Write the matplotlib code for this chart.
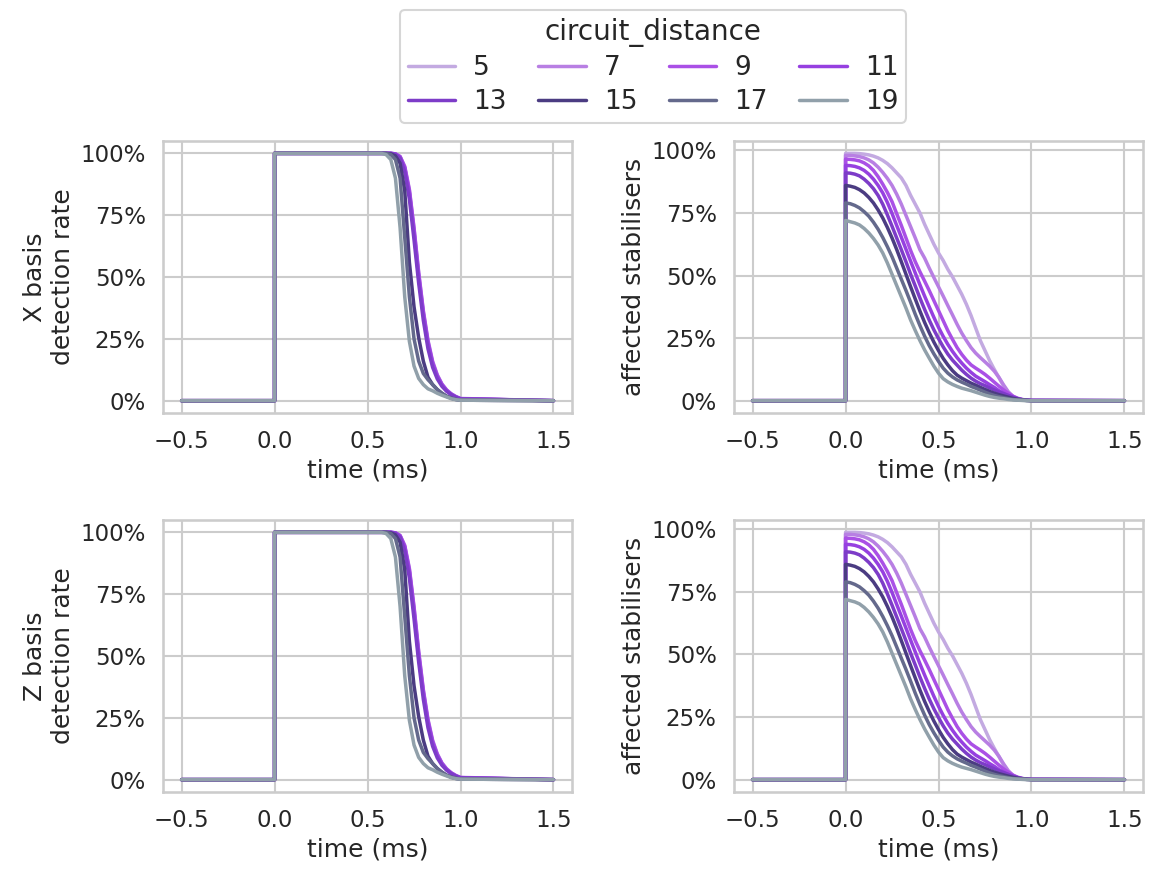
import numpy as np
import matplotlib
matplotlib.use("Agg")
import matplotlib.pyplot as plt
import seaborn as sns
from matplotlib.ticker import PercentFormatter

sns.set_theme(style="whitegrid", context="talk")
plt.rcParams["font.family"] = ["DejaVu Sans"]

# circuit distances and their line colours
distances = [5, 7, 9, 11, 13, 15, 17, 19]
colors = ["#c3aae1", "#b87fe3", "#aa50e6", "#9640e0",
          "#7d3cc8", "#4b3c82", "#64698c", "#91a0aa"]

# sampling grid after the event at t = 0 (ms)
time_ms = np.round(np.arange(0.0, 1.0001, 0.025), 3)
baseline_time = [-0.5, 0.0]
tail_time = [1.5]
baseline_level = 0.0

# detection rate (fraction of detectors firing)
rate_d5 = [1.0] * 26 + [0.997, 0.985, 0.94, 0.84, 0.68, 0.5, 0.35, 0.23, 0.15,
                        0.1, 0.065, 0.042, 0.027, 0.016, 0.008]
rate_d7 = [1.0] * 26 + [0.998, 0.988, 0.948, 0.855, 0.7, 0.52, 0.365, 0.245, 0.16,
                        0.105, 0.068, 0.044, 0.028, 0.017, 0.009]
rate_d9 = [1.0] * 26 + [0.998, 0.987, 0.945, 0.85, 0.695, 0.515, 0.36, 0.24, 0.155,
                        0.102, 0.066, 0.043, 0.027, 0.016, 0.008]
rate_d11 = [1.0] * 26 + [0.998, 0.985, 0.94, 0.84, 0.68, 0.5, 0.35, 0.232, 0.15,
                         0.098, 0.064, 0.041, 0.026, 0.015, 0.008]
rate_d13 = [1.0] * 26 + [0.995, 0.98, 0.925, 0.815, 0.65, 0.475, 0.325, 0.21, 0.135,
                         0.088, 0.058, 0.038, 0.024, 0.014, 0.007]
rate_d15 = [1.0] * 25 + [0.998, 0.99, 0.96, 0.85, 0.56, 0.38, 0.255, 0.16, 0.095,
                         0.065, 0.045, 0.03, 0.018, 0.01, 0.005, 0.002]
rate_d17 = [1.0] * 24 + [1.0, 0.995, 0.975, 0.9, 0.66, 0.42, 0.25, 0.16, 0.11,
                         0.085, 0.065, 0.045, 0.03, 0.018, 0.01, 0.005, 0.002]
rate_d19 = [1.0] * 23 + [1.0, 0.995, 0.975, 0.9, 0.7, 0.42, 0.24, 0.14, 0.09,
                         0.065, 0.048, 0.04, 0.03, 0.022, 0.015, 0.008, 0.004, 0.002]

# fraction of stabilisers affected
affected_d5 = [0.988, 0.988, 0.988, 0.987, 0.985, 0.982, 0.977, 0.97, 0.96, 0.947,
               0.93, 0.91, 0.89, 0.86, 0.82, 0.785, 0.75, 0.705, 0.665, 0.625,
               0.59, 0.56, 0.525, 0.495, 0.46, 0.425, 0.385, 0.34, 0.29, 0.24,
               0.2, 0.16, 0.125, 0.092, 0.058, 0.03, 0.015, 0.007, 0.003, 0.001, 0.0]
affected_d7 = [0.98, 0.98, 0.978, 0.975, 0.97, 0.962, 0.95, 0.933, 0.912, 0.888,
               0.86, 0.825, 0.785, 0.74, 0.695, 0.65, 0.603, 0.57, 0.53, 0.492,
               0.455, 0.418, 0.38, 0.343, 0.305, 0.27, 0.24, 0.212, 0.19, 0.172,
               0.155, 0.138, 0.118, 0.093, 0.063, 0.036, 0.018, 0.008, 0.004, 0.002, 0.001]
affected_d9 = [0.965, 0.964, 0.962, 0.958, 0.95, 0.938, 0.92, 0.895, 0.865, 0.832,
               0.795, 0.747, 0.7, 0.65, 0.6, 0.555, 0.515, 0.478, 0.44, 0.4,
               0.36, 0.32, 0.28, 0.245, 0.212, 0.185, 0.162, 0.143, 0.13, 0.118,
               0.105, 0.09, 0.074, 0.058, 0.043, 0.03, 0.018, 0.01, 0.005, 0.002, 0.001]
affected_d11 = [0.94, 0.939, 0.936, 0.93, 0.92, 0.905, 0.885, 0.86, 0.83, 0.792,
                0.748, 0.7, 0.653, 0.605, 0.557, 0.51, 0.463, 0.418, 0.375, 0.333,
                0.293, 0.257, 0.225, 0.197, 0.172, 0.15, 0.13, 0.113, 0.098, 0.087,
                0.076, 0.064, 0.053, 0.04, 0.03, 0.021, 0.013, 0.008, 0.004, 0.002, 0.001]
affected_d13 = [0.91, 0.909, 0.905, 0.898, 0.885, 0.868, 0.847, 0.82, 0.785, 0.742,
                0.697, 0.65, 0.603, 0.555, 0.505, 0.458, 0.41, 0.365, 0.322, 0.283,
                0.248, 0.215, 0.186, 0.162, 0.142, 0.122, 0.105, 0.09, 0.078, 0.068,
                0.06, 0.051, 0.043, 0.035, 0.028, 0.021, 0.014, 0.008, 0.004, 0.002, 0.001]
affected_d15 = [0.86, 0.857, 0.852, 0.843, 0.83, 0.812, 0.79, 0.762, 0.73, 0.692,
                0.65, 0.604, 0.555, 0.505, 0.455, 0.406, 0.358, 0.313, 0.272, 0.234,
                0.2, 0.169, 0.143, 0.12, 0.102, 0.09, 0.08, 0.07, 0.062, 0.053,
                0.045, 0.037, 0.03, 0.024, 0.019, 0.014, 0.009, 0.006, 0.003, 0.001, 0.0]
affected_d17 = [0.79, 0.787, 0.78, 0.77, 0.755, 0.737, 0.713, 0.685, 0.652, 0.615,
                0.575, 0.53, 0.485, 0.44, 0.393, 0.345, 0.3, 0.258, 0.22, 0.187,
                0.157, 0.13, 0.11, 0.095, 0.083, 0.074, 0.066, 0.057, 0.05, 0.042,
                0.034, 0.027, 0.021, 0.016, 0.012, 0.008, 0.005, 0.003, 0.002, 0.001, 0.0]
affected_d19 = [0.72, 0.715, 0.71, 0.702, 0.688, 0.67, 0.648, 0.622, 0.59, 0.55,
                0.505, 0.46, 0.415, 0.37, 0.322, 0.28, 0.24, 0.203, 0.17, 0.138,
                0.11, 0.088, 0.075, 0.065, 0.057, 0.05, 0.045, 0.04, 0.034, 0.028,
                0.022, 0.017, 0.013, 0.01, 0.008, 0.005, 0.003, 0.002, 0.001, 0.0, 0.0]

detection_rate = {5: rate_d5, 7: rate_d7, 9: rate_d9, 11: rate_d11,
                  13: rate_d13, 15: rate_d15, 17: rate_d17, 19: rate_d19}
affected = {5: affected_d5, 7: affected_d7, 9: affected_d9, 11: affected_d11,
            13: affected_d13, 15: affected_d15, 17: affected_d17, 19: affected_d19}

bases = ["X", "Z"]
xticks = [-0.5, 0.0, 0.5, 1.0, 1.5]
yticks = [0.0, 0.25, 0.5, 0.75, 1.0]

fig = plt.figure(figsize=(11.49, 8.71), dpi=100)
axes = fig.subplots(2, 2)
fig.subplots_adjust(left=0.1419, right=0.9948, top=0.8381, bottom=0.0907,
                    wspace=0.396, hspace=0.393)

full_time = baseline_time + list(time_ms) + tail_time


def trace(values):
    return [baseline_level, baseline_level] + list(values) + [baseline_level]


for row, basis in enumerate(bases):
    ax_rate, ax_aff = axes[row]
    for d, c in zip(distances, colors):
        ax_rate.plot(full_time, trace(detection_rate[d]), color=c, lw=2.5,
                     label=str(d))
        ax_aff.plot(full_time, trace(affected[d]), color=c, lw=2.5,
                    label=str(d))
    ax_rate.set_ylabel(f"{basis} basis\ndetection rate")
    ax_aff.set_ylabel("affected stabilisers")
    for ax in (ax_rate, ax_aff):
        ax.set_xlabel("time (ms)")
        ax.set_xticks(xticks)
        ax.set_yticks(yticks)
        ax.yaxis.set_major_formatter(PercentFormatter(1.0, decimals=0))

# legend entries read row by row: 5 7 9 11 / 13 15 17 19
handles, labels = axes[0, 0].get_legend_handles_labels()
ncol = 4
order = [r * ncol + c for c in range(ncol) for r in range(2)]
fig.legend([handles[i] for i in order], [labels[i] for i in order],
           title="circuit_distance", ncol=ncol, fontsize=19, title_fontsize=20,
           loc="upper center", bbox_to_anchor=(0.5683, 0.9885),
           borderaxespad=0.0, borderpad=0.3, labelspacing=0.3,
           handlelength=1.8, handletextpad=0.68, columnspacing=1.2)

fig.savefig("out.png", dpi=100)
